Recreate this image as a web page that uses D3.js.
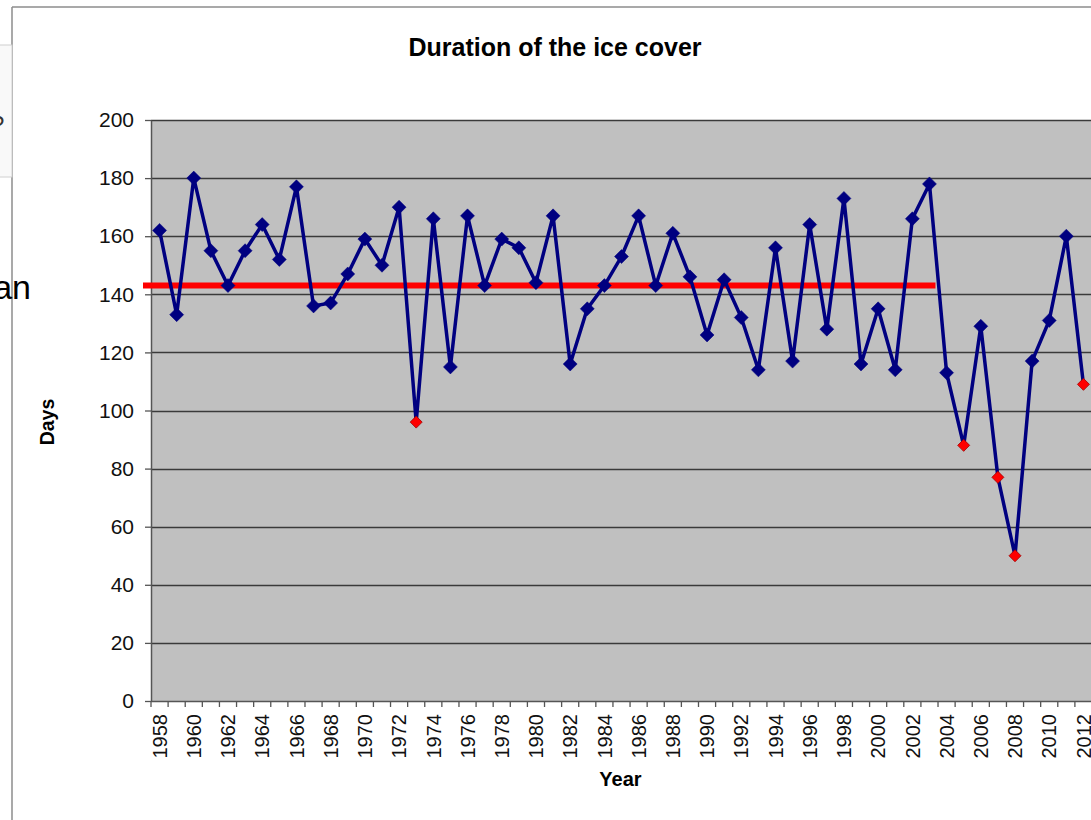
<!DOCTYPE html>
<html>
<head>
<meta charset="utf-8">
<script src="https://cdn.jsdelivr.net/npm/d3@7"></script>
<style>
  html, body { margin: 0; padding: 0; background: #ffffff; overflow: hidden; }
  svg { display: block; font-family: "Liberation Sans", Arial, sans-serif; }
</style>
</head>
<body>
<svg id="chart" width="1091" height="820"></svg>
<script>
// ---- data ----
const title = "Duration of the ice cover";
const yTitle = "Days";
const xTitle = "Year";
const years = ["1958","1959","1960","1961","1962","1963","1964","1965","1966","1967",
               "1968","1969","1970","1971","1972","1973","1974","1975","1976","1977",
               "1978","1979","1980","1981","1982","1983","1984","1985","1986","1987",
               "1988","1989","1990","1991","1992","1993","1994","1995","1996","1997",
               "1998","1999","2000","2001","2002","2003","2004","2005","2006","2007",
               "2008","2009","2010","2011","2012"];
const days = [162,133,180,155,143,155,164,152,177,136,
              137,147,159,150,170,96,166,115,167,143,
              159,156,144,167,116,135,143,153,167,143,
              161,146,126,145,132,114,156,117,164,128,
              173,116,135,114,166,178,113,88,129,77,
              50,117,131,160,109];
const highlightYears = ["1973","2005","2007","2008","2012"];
const meanValue = 143;
const meanStartYear = "1958";
const meanEndYear = "2003";
const yTicks = [0,20,40,60,80,100,120,140,160,180,200];
const xTickLabels = ["1958","1960","1962","1964","1966","1968","1970","1972","1974","1976",
                     "1978","1980","1982","1984","1986","1988","1990","1992","1994","1996",
                     "1998","2000","2002","2004","2006","2008","2010","2012"];
const sideText = "Mean";

// ---- layout ----
const svg = d3.select("#chart");
const W = 1091, H = 820;
const plot = { left: 151, right: 1092, top: 120, bottom: 701 };

const x = d3.scaleBand().domain(years).range([plot.left, plot.right]).paddingInner(0).paddingOuter(0);
const y = d3.scaleLinear().domain([0, 200]).range([plot.bottom, plot.top]);
const xc = d => x(d) + x.bandwidth() / 2;

const data = years.map((yr, i) => ({ year: yr, value: days[i], hi: highlightYears.includes(yr) }));

// chart border (slide frame)
svg.append("line").attr("x1", 12).attr("x2", W + 2).attr("y1", 7).attr("y2", 7)
  .attr("stroke", "#8c8c8c").attr("stroke-width", 1.5);
svg.append("line").attr("x1", 12).attr("x2", 12).attr("y1", 7).attr("y2", H + 2)
  .attr("stroke", "#8c8c8c").attr("stroke-width", 1.5);

// overlapping slide box on the left
const leftBox = svg.append("g");
leftBox.append("rect").attr("x", -2).attr("y", 45).attr("width", 14).attr("height", 132)
  .attr("fill", "#f9f9f9").attr("stroke", "#d0d0d0").attr("stroke-width", 1);
leftBox.append("text").attr("x", -9).attr("y", 133).attr("font-size", 24)
  .attr("fill", "#333").text("?");

// side text (partially cut)
svg.append("text").attr("x", 31).attr("y", 299).attr("text-anchor", "end")
  .attr("font-size", 34).attr("fill", "#000").text(sideText);

// plot background
svg.append("rect").attr("x", plot.left).attr("y", plot.top)
  .attr("width", plot.right - plot.left).attr("height", plot.bottom - plot.top)
  .attr("fill", "#c0c0c0");

// gridlines
svg.append("g").selectAll("line").data(yTicks.filter(t => t > 0)).join("line")
  .attr("x1", plot.left).attr("x2", plot.right)
  .attr("y1", d => Math.round(y(d)) + 0.5).attr("y2", d => Math.round(y(d)) + 0.5)
  .attr("stroke", "#3a3a3a").attr("stroke-width", 1.3);

// y axis
const yAxis = svg.append("g").attr("transform", `translate(${plot.left},0)`)
  .call(d3.axisLeft(y).tickValues(yTicks).tickSize(6).tickPadding(11).tickSizeOuter(0));
yAxis.select(".domain").attr("stroke", "#555").attr("stroke-width", 1.5);
yAxis.selectAll(".tick line").attr("stroke", "#555").attr("stroke-width", 1.3);
yAxis.selectAll(".tick text").attr("font-size", 21).attr("fill", "#111")
  .attr("font-family", "'Liberation Sans', Arial, sans-serif");

// x axis line + boundary ticks
const xAxisG = svg.append("g");
xAxisG.append("line").attr("x1", plot.left).attr("x2", plot.right)
  .attr("y1", plot.bottom + 0.5).attr("y2", plot.bottom + 0.5)
  .attr("stroke", "#555").attr("stroke-width", 1.5);
const boundaries = years.map(d => x(d)).concat([x(years[years.length - 1]) + x.bandwidth()]);
xAxisG.selectAll("line.tk").data(boundaries).join("line").attr("class", "tk")
  .attr("x1", d => d).attr("x2", d => d)
  .attr("y1", plot.bottom).attr("y2", plot.bottom + 6)
  .attr("stroke", "#555").attr("stroke-width", 1.3);

// x tick labels (rotated)
xAxisG.selectAll("text").data(xTickLabels).join("text")
  .attr("transform", d => `translate(${xc(d)},${plot.bottom + 13}) rotate(-90)`)
  .attr("text-anchor", "end").attr("dy", "0.36em")
  .attr("font-size", 20).attr("fill", "#111").text(d => d);

// mean line
svg.append("line")
  .attr("x1", x(meanStartYear) - 8).attr("x2", xc(meanEndYear) + 6)
  .attr("y1", y(meanValue)).attr("y2", y(meanValue))
  .attr("stroke", "#ff0000").attr("stroke-width", 6);

// series line
const line = d3.line().x(d => xc(d.year)).y(d => y(d.value));
svg.append("path").datum(data).attr("d", line)
  .attr("fill", "none").attr("stroke", "#000080").attr("stroke-width", 3.5)
  .attr("stroke-linejoin", "miter").attr("stroke-miterlimit", 3);

// markers
const diamond = r => `M0,${-r}L${r},0L0,${r}L${-r},0Z`;
svg.append("g").selectAll("path").data(data).join("path")
  .attr("transform", d => `translate(${xc(d.year)},${y(d.value)})`)
  .attr("d", d => d.hi ? diamond(6) : diamond(7))
  .attr("fill", d => d.hi ? "#ff0000" : "#000080")
  .attr("stroke", d => d.hi ? "#a00000" : "#000080")
  .attr("stroke-width", d => d.hi ? 0.8 : 0.5);

// titles
svg.append("text").attr("x", 555).attr("y", 56).attr("text-anchor", "middle")
  .attr("font-size", 25).attr("font-weight", "bold").attr("fill", "#000").text(title);
svg.append("text").attr("x", (plot.left + plot.right) / 2 - 1).attr("y", 786)
  .attr("text-anchor", "middle").attr("font-size", 20).attr("font-weight", "bold")
  .attr("fill", "#000").text(xTitle);
svg.append("text").attr("transform", "translate(54,422) rotate(-90)")
  .attr("text-anchor", "middle").attr("font-size", 19.5).attr("font-weight", "bold")
  .attr("fill", "#000").text(yTitle);
</script>
</body>
</html>
